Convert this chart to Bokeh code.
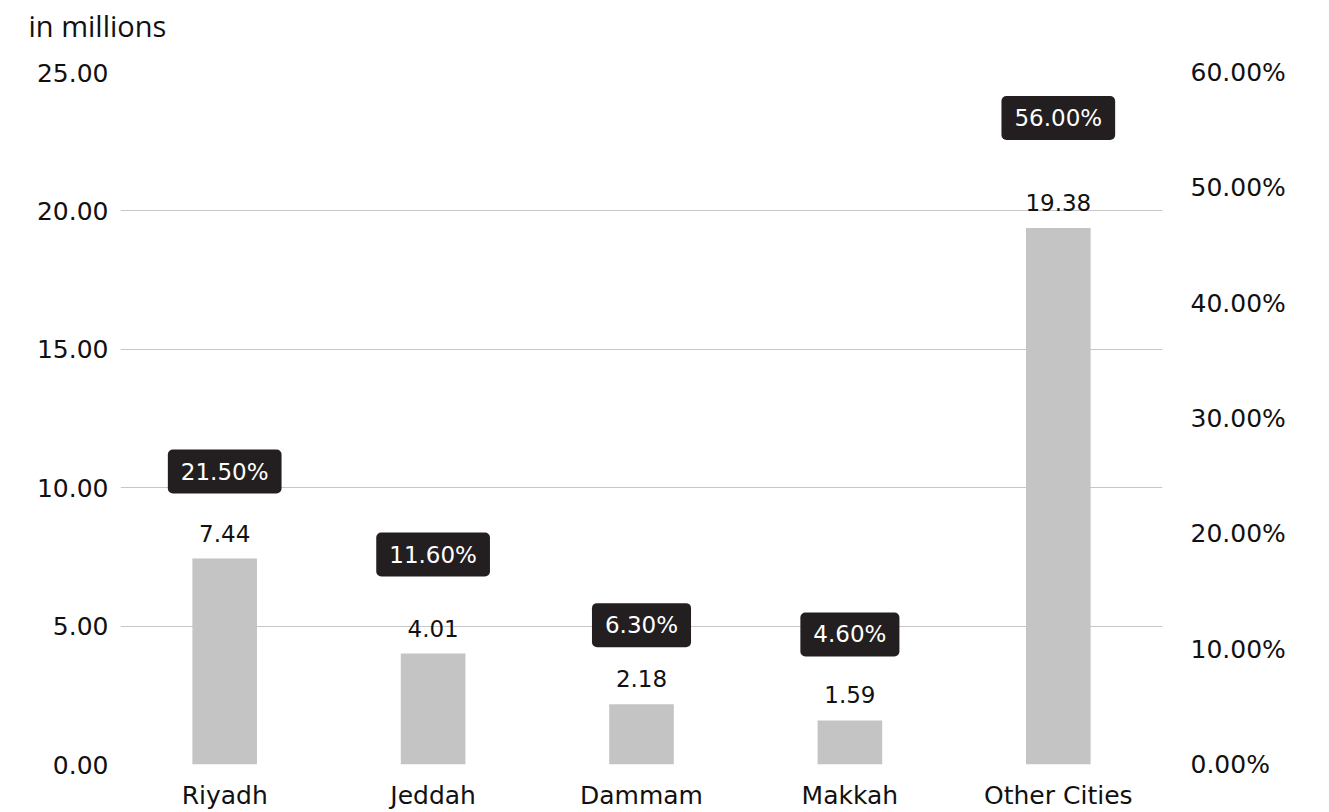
from bokeh.plotting import figure
from bokeh.models import (ColumnDataSource, FactorRange, Range1d, LinearAxis,
                          FixedTicker, PrintfTickFormatter, Label)
from bokeh.core.properties import value
from bokeh.embed import file_html
from bokeh.resources import INLINE

# ---- data ----
cities = ["Riyadh", "Jeddah", "Dammam", "Makkah", "Other Cities"]
population_m = [7.44, 4.01, 2.18, 1.59, 19.38]
share_pct = [21.50, 11.60, 6.30, 4.60, 56.00]
left_ticks = [0, 5, 10, 15, 20, 25]
right_ticks = [0, 10, 20, 30, 40, 50, 60]

# ---- styling ----
FONT = "DejaVu Sans"
tag_lift_px = [87, 99, 79, 86, 110]   # vertical lift of the dark share tags above bar tops

src = ColumnDataSource(dict(
    city=cities,
    pop=population_m,
    pop_label=["%.2f" % v for v in population_m],
    share_label=["%.2f%%" % v for v in share_pct],
    tag_off=[-v for v in tag_lift_px],
))

p = figure(width=1329, height=812, output_backend="svg", toolbar_location=None,
           x_range=FactorRange(*cities, range_padding=0), y_range=Range1d(0, 25),
           min_border_left=120, min_border_right=167, min_border_top=72,
           min_border_bottom=46)
p.outline_line_color = None
p.background_fill_color = "white"
p.border_fill_color = "white"

p.vbar(x="city", top="pop", width=0.31, source=src, color="#c4c4c4", line_color=None)

# value labels above bars
p.text(x="city", y="pop", text="pop_label", source=src, y_offset=-17,
       text_align="center", text_baseline="bottom", text_font=value(FONT),
       text_font_size="23px", text_color="#111111")

# dark share tags
p.text(x="city", y="pop", text="share_label", source=src, y_offset="tag_off",
       text_align="center", text_baseline="middle", text_font=value(FONT),
       text_font_size="23px", text_color="white",
       background_fill_color="#231f20", padding=(13, 9), border_radius=5)

# axes
p.yaxis.ticker = FixedTicker(ticks=left_ticks)
p.yaxis.formatter = PrintfTickFormatter(format="%.2f")
p.extra_y_ranges = {"pct": Range1d(0, 60)}
ax_r = LinearAxis(y_range_name="pct", ticker=FixedTicker(ticks=right_ticks),
                  formatter=PrintfTickFormatter(format="%.2f%%"))
p.add_layout(ax_r, "right")

for ax in [p.yaxis[0], ax_r, p.xaxis[0]]:
    ax.axis_line_color = None
    ax.major_tick_line_color = None
    ax.minor_tick_line_color = None
    ax.major_tick_out = 0
    ax.major_tick_in = 0
    ax.minor_tick_out = 0
    ax.major_label_text_font = FONT
    ax.major_label_text_font_size = "25px"
    ax.major_label_text_color = "#111111"
p.yaxis[0].major_label_standoff = 12
ax_r.major_label_standoff = 28
p.xaxis.major_label_standoff = 16

p.xgrid.grid_line_color = None
p.ygrid.grid_line_color = "#c6c6c6"
p.ygrid.grid_line_width = 1

p.add_layout(Label(x=-92, y=47, x_units="screen", y_units="screen",
                   text="in millions", text_font="Open Sans", text_font_size="29px",
                   text_color="#111111", text_baseline="alphabetic"), "above")

open("out.html", "w").write(file_html(p, INLINE))
